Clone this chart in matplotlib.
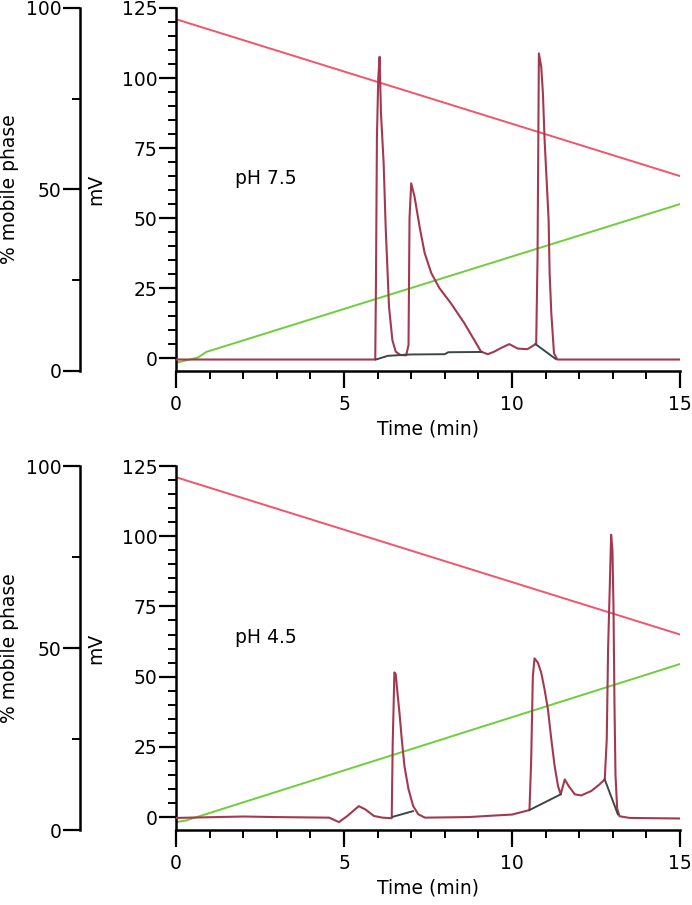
import matplotlib
matplotlib.use("Agg")
from matplotlib import pyplot as plt
from matplotlib.ticker import MultipleLocator

plt.rcParams['font.family'] = ['DejaVu Sans']

# gradient traces (read in mV units of the right-hand axis)
grad_t = [0, 15]
red_top = [121, 65]
red_bot = [121, 65]
green_top_t = [0, 0.65, 0.9, 15]
green_top = [-1.7, 0.2, 2.2, 55]
green_bot_t = [0, 0.3, 15]
green_bot = [-1.8, -1.2, 54.5]

# chromatogram, pH 7.5
top_t = [0, 5.93, 5.95, 5.98, 6.02, 6.06, 6.1, 6.18, 6.24, 6.34, 6.44, 6.54, 6.68,
         6.85, 6.92, 6.95, 7.0, 7.1, 7.25, 7.4, 7.6, 7.84, 8.18, 8.58, 8.88, 9.08,
         9.28, 9.47, 9.67, 9.92, 10.17, 10.46, 10.65, 10.72, 10.76, 10.8, 10.87,
         10.92, 10.97, 11.02, 11.09, 11.12, 11.17, 11.25, 11.35, 15]
top_mv = [-0.5, -0.5, 25, 79, 100, 107.6, 87.5, 69.6, 46.9, 18.3, 6.4, 2.3, 1.1,
          1.0, 4.6, 50, 62.4, 57.6, 46.9, 37.5, 30.3, 25, 19.6, 12.5, 6.4, 2.3,
          1.4, 2.3, 3.6, 5.0, 3.4, 3.2, 4.6, 5.2, 36, 108.8, 104, 94.5, 77.9, 66,
          49.3, 30.3, 16, 1.7, -0.5, -0.5]

# chromatogram, pH 4.5
bot_t = [0, 2.0, 3.0, 4.56, 4.85, 5.1, 5.44, 5.64, 5.89, 6.14, 6.42, 6.45, 6.5,
         6.54, 6.59, 6.65, 6.72, 6.8, 6.92, 7.06, 7.21, 7.41, 8.7, 9.4, 10.0,
         10.52, 10.57, 10.62, 10.67, 10.77, 10.87, 10.97, 11.07, 11.17, 11.27,
         11.37, 11.45, 11.57, 11.69, 11.87, 12.06, 12.36, 12.6, 12.76, 12.82,
         12.86, 12.91, 12.95, 12.99, 13.02, 13.05, 13.08, 13.13, 13.2, 13.5, 15]
bot_mv = [-0.3, 0.2, 0.0, -0.2, -1.8, 0.4, 3.9, 2.7, 0.4, -0.2, -0.4, 26.5, 51.5,
          50.8, 44.4, 37.2, 27.6, 18.1, 9.9, 3.9, 1.0, -0.2, 0.0, 0.5, 0.9,
          2.5, 20, 50, 56.5, 55, 51.4, 45.4, 38.3, 27.7, 18.1,
          11, 8.1, 13.4, 11, 8.1, 7.7, 9.3, 11.6, 13.4, 27.7,
          60, 82, 100.5, 95, 75, 40, 15, 3, 0.3, -0.3, -0.5]

# integration baselines
top_bases = [([5.95, 6.3, 6.8, 7.0, 8.0, 8.1, 9.1], [-0.5, 0.8, 1.2, 1.3, 1.4, 2.1, 2.2]),
             ([10.7, 11.3], [5.0, -0.3])]
bot_bases = [([6.45, 7.05], [0.1, 2.1]),
             ([10.52, 11.45], [2.5, 8.1]),
             ([12.76, 13.15], [13.4, 1.0])]

labels = ['pH 7.5', 'pH 4.5']
label_pos = [(1.75, 64), (1.75, 64)]

RED = '#f2546a'
GREEN = '#6ccf3a'
MAROON = '#a3394f'
GREY = '#3d4747'
FS = 13.5

W, H = 692, 905
fig = plt.figure(figsize=(W / 100, H / 100), dpi=100)

panels = [
    (8, 371, red_top, green_top_t, green_top, top_t, top_mv, top_bases),
    (466, 830, red_bot, green_bot_t, green_bot, bot_t, bot_mv, bot_bases),
]

for i, (ytop, ybot, red, gt, gv, ct, cv, bases) in enumerate(panels):
    b = (H - ybot) / H
    h = (ybot - ytop) / H
    ax = fig.add_axes([176 / W, b, (680 - 176) / W, h])
    ax.plot(grad_t, red, color=RED, lw=1.4, zorder=2)
    ax.plot(gt, gv, color=GREEN, lw=1.4, zorder=2)
    ax.plot(ct, cv, color=MAROON, lw=1.5, zorder=3)
    for bt, bv in bases:
        ax.plot(bt, bv, color=GREY, lw=1.4, zorder=4)
    ax.text(label_pos[i][0], label_pos[i][1], labels[i], fontsize=FS,
            ha='left', va='center')

    ax.set_xlim(0, 15)
    ax.set_ylim(-4.6, 125)
    ax.set_xticks([0, 5, 10, 15])
    ax.xaxis.set_minor_locator(MultipleLocator(1))
    ax.set_yticks([0, 25, 50, 75, 100, 125])
    ax.yaxis.set_minor_locator(MultipleLocator(5))
    for s in ['top', 'right']:
        ax.spines[s].set_visible(False)
    for s in ['left', 'bottom']:
        ax.spines[s].set_linewidth(1.8)
    ax.tick_params(which='major', length=12, width=1.6, labelsize=FS)
    ax.tick_params(which='minor', length=6, width=1.4)
    ax.tick_params(axis='y', which='major', pad=1.5)
    ax.tick_params(axis='x', which='major', pad=5)
    ax.set_xlabel('Time (min)', fontsize=FS, labelpad=4)
    ax.set_ylabel('mV', fontsize=FS)
    ax.yaxis.set_label_coords(-0.141, 0.5)

    # % mobile phase axis
    axp = fig.add_axes([80 / W, b, 0.0001, h])
    axp.set_ylim(0, 100)
    axp.set_xticks([])
    axp.set_yticks([0, 50, 100])
    axp.set_yticks([25, 75], minor=True)
    for s in ['top', 'right', 'bottom']:
        axp.spines[s].set_visible(False)
    axp.spines['left'].set_linewidth(1.8)
    axp.patch.set_visible(False)
    axp.tick_params(which='major', length=12, width=1.6, labelsize=FS, pad=1.5)
    axp.tick_params(which='minor', length=6, width=1.4)
    fig.text(10 / W, b + h / 2, '% mobile phase', rotation=90, fontsize=FS,
             ha='center', va='center')

fig.savefig('out.png', dpi=100)
